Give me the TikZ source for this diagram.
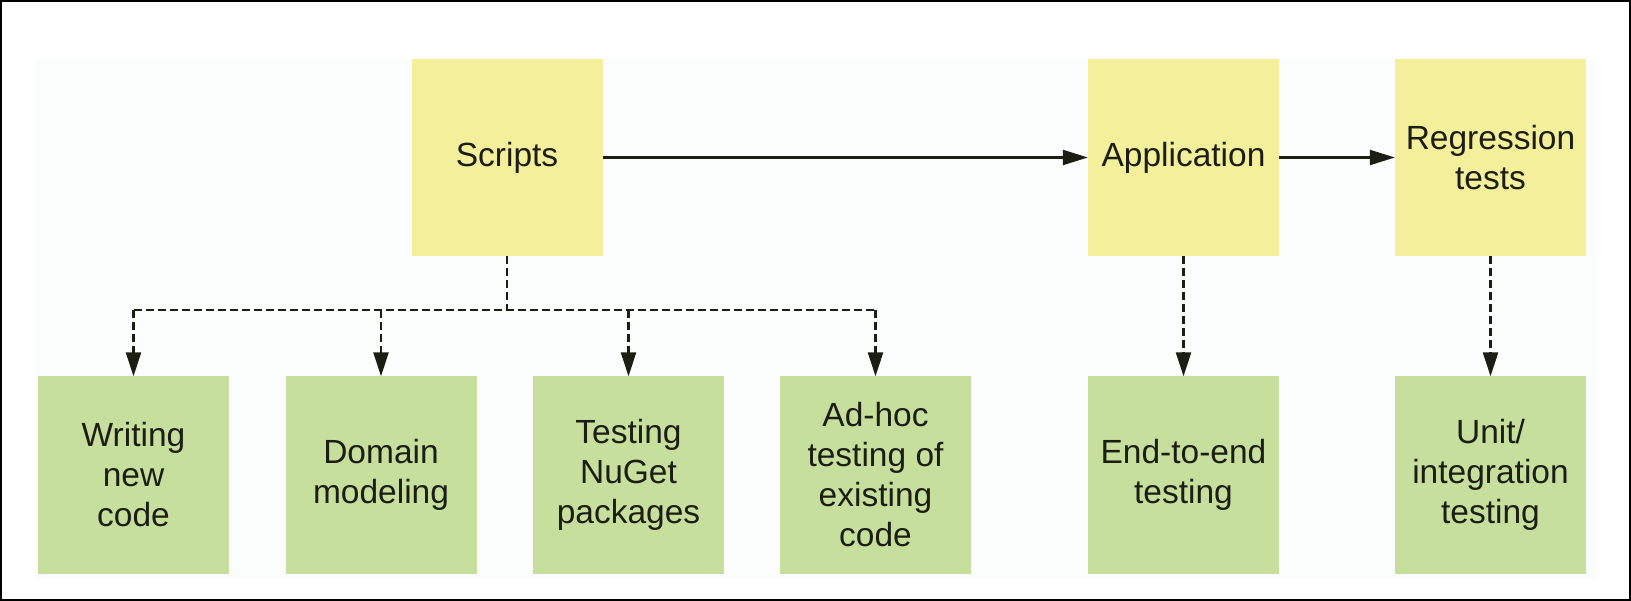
\documentclass[tikz,border=0pt]{standalone}
\usepackage{fontspec}
\setmainfont{Liberation Sans}
\usetikzlibrary{arrows.meta}
\definecolor{yel}{HTML}{F4EF9B}
\definecolor{grn}{HTML}{C6DF9D}
\definecolor{bgc}{HTML}{FBFCFC}
\definecolor{txt}{HTML}{1C1E14}
\tikzset{
  box/.style={minimum width=191pt, minimum height=197pt, inner sep=0pt, align=center,
    text=txt, font=\fontsize{33.5}{40}\selectfont},
  ybox/.style={box, fill=yel},
  gbox/.style={box, fill=grn},
  solidarrow/.style={line width=2.2pt, color=txt, -{Triangle[length=25pt,width=15pt]}},
  dashline/.style={line width=2.6pt, color=txt, dash pattern=on 8pt off 4pt},
  dasharrow/.style={dashline, -{Triangle[length=24pt,width=15pt]}}
}
\begin{document}
\begin{tikzpicture}[x=1pt,y=-1pt]
\useasboundingbox (0,0) rectangle (1631,601);
\fill[bgc] (36,59) rectangle (1596,578);
\draw[line width=2.4pt] (1.2,1.2) rectangle (1629.8,599.8);

\node[ybox] (s) at (507,157.5) {Scripts};
\node[ybox] (a) at (1183.5,157.5) {Application};
\node[ybox] (r) at (1490.5,157.5) {Regression\\tests};

\node[gbox] (w) at (133.5,475) {Writing\\new\\code};
\node[gbox] (d) at (381,475) {Domain\\modeling};
\node[gbox] (n) at (628.5,475) {Testing\\NuGet\\packages};
\node[gbox] (h) at (875.5,475) {Ad-hoc\\testing of\\existing\\code};
\node[gbox] (e) at (1183.5,475) {End-to-end\\testing};
\node[gbox] (u) at (1490.5,475) {Unit/\\integration\\testing};

\coordinate (bus) at (507,310);
\coordinate (bw) at (w.north |- bus);
\coordinate (bd) at (d.north |- bus);
\coordinate (bn) at (n.north |- bus);
\coordinate (bh) at (h.north |- bus);

\draw[solidarrow] (s) -- (a);
\draw[solidarrow] (a) -- (r);

\draw[dashline] (s.south) -- (bus);
\draw[dashline] (bw) -- (bh);
\draw[dasharrow] (bw) -- (w.north);
\draw[dasharrow] (bd) -- (d.north);
\draw[dasharrow] (bn) -- (n.north);
\draw[dasharrow] (bh) -- (h.north);
\draw[dasharrow] (a.south) -- (e.north);
\draw[dasharrow] (r.south) -- (u.north);
\end{tikzpicture}
\end{document}
